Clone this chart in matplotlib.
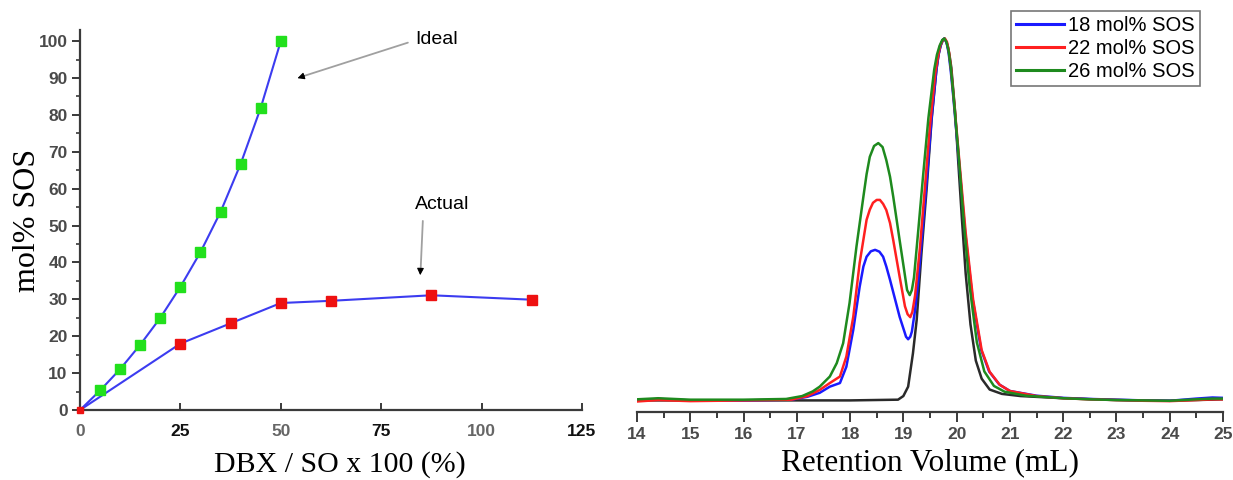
import matplotlib
matplotlib.use("Agg")
import matplotlib.pyplot as plt
from matplotlib.ticker import MultipleLocator

# left panel: composition vs feed ratio
ideal_x = [0, 5, 10, 15, 20, 25, 30, 35, 40, 45, 50]
ideal_y = [0, 5.3, 11.1, 17.7, 25.0, 33.4, 42.8, 53.7, 66.7, 81.9, 100.0]
actual_x = [0, 25, 37.5, 50, 62.5, 87.5, 112.5]
actual_y = [0, 18.0, 23.5, 29.0, 29.6, 31.1, 29.9]

# right panel: SEC traces (normalised)
blue_x = [14.0, 14.4, 15.0, 16.0, 16.9, 17.2, 17.43, 17.62, 17.81, 17.93, 18.06, 18.18, 18.25, 18.31,
          18.39, 18.47, 18.55, 18.62, 18.68, 18.75, 18.93, 19.02, 19.05, 19.09, 19.13, 19.16, 19.22,
          19.28, 19.36, 19.44, 19.53, 19.62, 19.66, 19.70, 19.74, 19.77, 19.81, 19.85, 19.89, 19.94,
          20.05, 20.16, 20.30, 20.46, 20.61, 20.80, 21.0, 21.5, 22.0, 22.5, 23.0, 23.5, 24.0, 24.5,
          24.8, 25.0]
blue_y = [0.0, 0.004, 0.0, 0.0, 0.002, 0.01, 0.021, 0.038, 0.048, 0.093, 0.195, 0.314, 0.37, 0.397,
          0.412, 0.416, 0.411, 0.397, 0.37, 0.333, 0.231, 0.19, 0.176, 0.169, 0.176, 0.19, 0.25,
          0.33, 0.47, 0.61, 0.78, 0.913, 0.955, 0.982, 0.996, 1.0, 0.99, 0.96, 0.91, 0.835,
          0.65, 0.465, 0.28, 0.14, 0.08, 0.044, 0.026, 0.013, 0.007, 0.004, 0.002, 0.0, -0.001, 0.005,
          0.008, 0.007]

red_x = [14.0, 14.4, 15.0, 16.0, 16.9, 17.2, 17.43, 17.62, 17.81, 17.93, 18.06, 18.18, 18.31, 18.37,
         18.43, 18.50, 18.56, 18.62, 18.68, 18.75, 18.81, 18.93, 19.03, 19.08, 19.13, 19.17, 19.22,
         19.31, 19.40, 19.50, 19.60, 19.65, 19.69, 19.74, 19.78, 19.82, 19.86, 19.90, 19.95, 20.06,
         20.17, 20.31, 20.47, 20.62, 20.81, 21.0, 21.5, 22.0, 22.5, 23.0, 23.5, 24.0, 24.5, 24.8,
         25.0]
red_y = [-0.003, 0.001, -0.002, 0.0, 0.002, 0.012, 0.029, 0.048, 0.066, 0.121, 0.231, 0.38, 0.499, 0.527,
         0.546, 0.554, 0.554, 0.543, 0.526, 0.49, 0.443, 0.342, 0.26, 0.238, 0.23, 0.245, 0.29,
         0.42, 0.58, 0.76, 0.905, 0.95, 0.98, 0.996, 1.0, 0.99, 0.96, 0.91, 0.83, 0.646,
         0.463, 0.278, 0.139, 0.079, 0.043, 0.026, 0.012, 0.006, 0.003, 0.001, -0.001, -0.002, 0.001, 0.003,
         0.003]

green_x = [14.0, 14.4, 15.0, 16.0, 16.8, 17.1, 17.3, 17.43, 17.62, 17.75, 17.87, 17.99, 18.12, 18.25,
           18.31, 18.37, 18.45, 18.53, 18.61, 18.68, 18.75, 18.81, 18.93, 19.02, 19.07, 19.12, 19.16,
           19.20, 19.28, 19.37, 19.47, 19.58, 19.63, 19.68, 19.73, 19.77, 19.81, 19.85, 19.89, 19.93,
           20.03, 20.13, 20.24, 20.38, 20.52, 20.70, 20.90, 21.3, 22.0, 22.5, 23.0, 23.5, 24.0, 24.5,
           24.8, 25.0]
green_y = [0.003, 0.006, 0.002, 0.002, 0.004, 0.012, 0.025, 0.038, 0.066, 0.103, 0.158, 0.269, 0.425, 0.563,
           0.625, 0.673, 0.703, 0.711, 0.700, 0.664, 0.618, 0.563, 0.443, 0.355, 0.305, 0.291, 0.305,
           0.34, 0.47, 0.62, 0.78, 0.915, 0.955, 0.98, 0.996, 1.0, 0.99, 0.965, 0.92, 0.86,
           0.69, 0.50, 0.32, 0.16, 0.08, 0.04, 0.024, 0.013, 0.006, 0.003, 0.001, 0.0, -0.001, 0.003,
           0.005, 0.005]

black_x = [14.0, 15.0, 16.0, 17.0, 18.0, 18.9, 19.0, 19.09, 19.18, 19.25, 19.34, 19.44, 19.53, 19.62,
           19.66, 19.70, 19.74, 19.77, 19.81, 19.84, 19.87, 19.90, 19.97, 20.03, 20.10, 20.17, 20.26,
           20.36, 20.47, 20.62, 20.85, 21.2, 22.0, 23.0, 24.0, 25.0]
black_y = [0.0, 0.0, 0.0, 0.0, 0.0, 0.002, 0.012, 0.038, 0.13, 0.222, 0.407, 0.59, 0.775, 0.913,
           0.955, 0.98, 0.995, 1.0, 0.99, 0.975, 0.95, 0.92, 0.80, 0.66, 0.50, 0.35, 0.21,
           0.11, 0.06, 0.03, 0.018, 0.012, 0.006, 0.001, -0.001, 0.003]

legend_labels = ["18 mol% SOS", "22 mol% SOS", "26 mol% SOS"]

fig = plt.figure(figsize=(12.33, 4.8), dpi=100)
sans = "Liberation Sans"
serif = "Liberation Serif"
axcol = "#3a3a3a"

# ---- left panel
ax1 = fig.add_axes([0.0649, 0.1458, 0.4071, 0.7917])
ax1.plot(ideal_x, ideal_y, color="#3c3cf0", lw=1.5, zorder=2)
ax1.plot(actual_x, actual_y, color="#3c3cf0", lw=1.5, zorder=2)
ax1.plot(ideal_x[1:], ideal_y[1:], ls="none", marker="s", ms=7, color="#22e01c", zorder=3)
ax1.plot(actual_x[1:], actual_y[1:], ls="none", marker="s", ms=7, color="#ee1111", zorder=3)
ax1.plot(actual_x[:1], actual_y[:1], ls="none", marker="s", ms=4, color="#ee1111", zorder=4, clip_on=False)
ax1.set_xlim(0, 125)
ax1.set_ylim(0, 103)
for s in ["top", "right"]:
    ax1.spines[s].set_visible(False)
for s in ["left", "bottom"]:
    ax1.spines[s].set_color(axcol)
    ax1.spines[s].set_linewidth(1.6)
ax1.yaxis.set_major_locator(MultipleLocator(10))
ax1.yaxis.set_minor_locator(MultipleLocator(5))
ax1.xaxis.set_major_locator(MultipleLocator(25))
ax1.tick_params(axis="y", which="major", direction="out", length=6, width=1.4, color=axcol, pad=3)
ax1.tick_params(axis="y", which="minor", direction="out", length=3, width=1.2, color=axcol)
ax1.tick_params(axis="x", which="major", direction="in", length=5, width=1.4, color=axcol, pad=10)
for lab in ax1.get_yticklabels():
    lab.set_fontfamily(sans)
    lab.set_fontsize(12.5)
    lab.set_fontweight("bold")
    lab.set_color("#4a4a4a")
ax1.set_xticks([0, 25, 50, 75, 100, 125])
ax1.set_xticklabels(["0", "25", "50", "75", "100", "125"])
for i, lab in enumerate(ax1.get_xticklabels()):
    lab.set_fontfamily(sans)
    lab.set_fontsize(12.5)
    lab.set_fontweight("bold")
    lab.set_color("#111111" if i % 2 == 1 else "#666666")
ax1.set_xlabel("DBX / SO x 100 (%)", fontfamily=serif, fontsize=21.5)
ax1.xaxis.set_label_coords(0.518, -0.107)
ax1.set_ylabel("mol% SOS", fontfamily=serif, fontsize=23)
ax1.yaxis.set_label_coords(-0.075, 0.5)

ax1.text(83.4, 100.3, "Ideal", fontfamily=sans, fontsize=14, va="center", ha="left")
ax1.annotate("", xy=(54.5, 90.1), xytext=(82.3, 99.8),
             arrowprops=dict(arrowstyle="-", color="#a0a0a0", lw=1.3))
ax1.annotate("", xy=(53.5, 89.7), xytext=(56.5, 90.8),
             arrowprops=dict(arrowstyle="-|>", color="black", lw=0.8, mutation_scale=10))
ax1.text(83.4, 55.6, "Actual", fontfamily=sans, fontsize=14, va="center", ha="left")
ax1.annotate("", xy=(84.8, 37.5), xytext=(85.4, 52.0),
             arrowprops=dict(arrowstyle="-", color="#a0a0a0", lw=1.3))
ax1.annotate("", xy=(84.7, 35.8), xytext=(84.8, 38.8),
             arrowprops=dict(arrowstyle="-|>", color="black", lw=0.8, mutation_scale=10))

# ---- right panel
ax2 = fig.add_axes([0.5166, 0.1417, 0.4753, 0.7958])
ax2.plot(black_x, black_y, color="#2a2a2a", lw=1.8)
l1, = ax2.plot(blue_x, blue_y, color="#1a1aff", lw=1.8)
l2, = ax2.plot(red_x, red_y, color="#ff2020", lw=1.8)
l3, = ax2.plot(green_x, green_y, color="#1e8a1e", lw=1.8)
ax2.set_xlim(14, 25)
ax2.set_ylim(-0.032, 1.0235)
for s in ["top", "right", "left"]:
    ax2.spines[s].set_visible(False)
ax2.spines["bottom"].set_color(axcol)
ax2.spines["bottom"].set_linewidth(1.6)
ax2.set_yticks([])
ax2.xaxis.set_major_locator(MultipleLocator(1))
ax2.xaxis.set_minor_locator(MultipleLocator(0.5))
ax2.tick_params(axis="x", which="major", direction="out", length=7, width=1.4, color=axcol, pad=4)
ax2.tick_params(axis="x", which="minor", direction="out", length=4, width=1.4, color=axcol)
for lab in ax2.get_xticklabels():
    lab.set_fontfamily(sans)
    lab.set_fontsize(12.5)
    lab.set_fontweight("bold")
    lab.set_color("#4a4a4a")
ax2.set_xlabel("Retention Volume (mL)", fontfamily=serif, fontsize=22.5, labelpad=4)

leg = fig.legend([l1, l2, l3], legend_labels, loc="upper right",
                 bbox_to_anchor=(1200 / 1233, 1 - 11 / 480), bbox_transform=fig.transFigure,
                 fancybox=False, borderaxespad=0, handlelength=2.4, handletextpad=0.2,
                 labelspacing=0.2, borderpad=0.25, prop={"family": sans, "size": 14.5})
leg.get_frame().set_edgecolor("#555555")
leg.get_frame().set_linewidth(1.2)
for h in leg.get_lines():
    h.set_linewidth(2.2)

fig.savefig("out.png", dpi=100)
